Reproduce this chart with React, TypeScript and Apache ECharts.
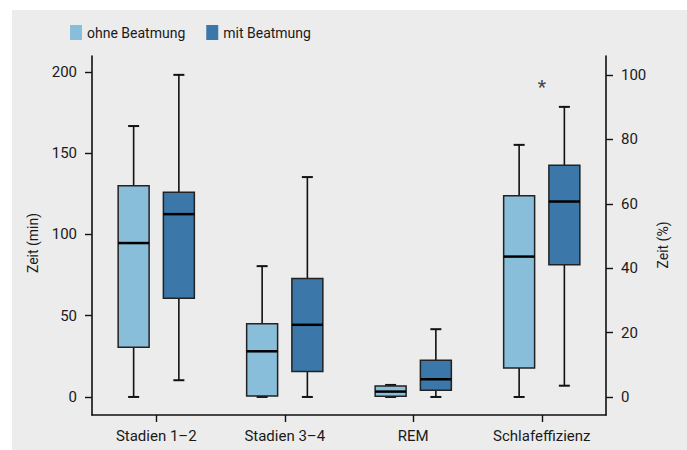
import React, { useEffect, useRef } from "react";
import * as echarts from "echarts";

const categories = ["Stadien 1–2", "Stadien 3–4", "REM", "Schlafeffizienz"];
const seriesNames = ["ohne Beatmung", "mit Beatmung"];
const colors = ["#89bedb", "#3b77a9"];

// [categoryIndex, lowerWhisker, Q1, median, Q3, upperWhisker] in minutes
const ohneMin = [
  [0, 0, 30.6, 94.7, 130.0, 166.7],
  [1, 0, 0.6, 28.1, 45.0, 80.5],
  [2, 0, 0.4, 3.3, 6.8, 7.4],
];
const mitMin = [
  [0, 10.3, 60.8, 112.5, 125.9, 198.2],
  [1, 0, 15.6, 44.4, 72.9, 135.3],
  [2, 0, 4.1, 10.9, 22.6, 41.7],
];
// Schlafeffizienz in percent (right axis)
const ohnePct = [[3, 0, 9.0, 43.6, 62.5, 78.3]];
const mitPct = [[3, 3.5, 41.1, 60.7, 72.0, 90.1]];
const significance = [[3, 96.5]];

const leftTicks = [0, 50, 100, 150, 200];
const rightTicks = [0, 20, 40, 60, 80, 100];

const FONT = "Roboto";
const TEXT = "#1a1a1a";

function makeRender(offsetFrac: number, color: string) {
  return (params: any, api: any) => {
    const cat = api.value(0);
    const band = api.size([1, 0])[0];
    const cx = api.coord([cat, 0])[0] + offsetFrac * band;
    const w = band * 0.241;
    const capW = 11;
    const y = (i: number) => api.coord([cat, api.value(i)])[1];
    const lo = y(1), q1 = y(2), med = y(3), q3 = y(4), hi = y(5);
    const lineStyle = { stroke: "#111", lineWidth: 1.6 };
    return {
      type: "group",
      children: [
        { type: "line", shape: { x1: cx, y1: hi, x2: cx, y2: q3 }, style: lineStyle },
        { type: "line", shape: { x1: cx, y1: q1, x2: cx, y2: lo }, style: lineStyle },
        { type: "line", shape: { x1: cx - capW / 2, y1: hi, x2: cx + capW / 2, y2: hi }, style: { stroke: "#111", lineWidth: 2 } },
        { type: "line", shape: { x1: cx - capW / 2, y1: lo, x2: cx + capW / 2, y2: lo }, style: { stroke: "#111", lineWidth: 2 } },
        {
          type: "rect",
          shape: { x: cx - w / 2, y: q3, width: w, height: q1 - q3 },
          style: { fill: color, stroke: "#222", lineWidth: 1.5 },
        },
        { type: "line", shape: { x1: cx - w / 2, y1: med, x2: cx + w / 2, y2: med }, style: { stroke: "#000", lineWidth: 2.5 } },
      ],
    };
  };
}

export default function App() {
  const ref = useRef<HTMLDivElement>(null);
  useEffect(() => {
    if (!ref.current) return;
    const chart = echarts.init(ref.current, undefined, { renderer: "svg" });
    const boxSeries = (name: string, data: number[][], offset: number, color: string, yAxisIndex: number) => ({
      type: "custom",
      name,
      yAxisIndex,
      data,
      encode: { x: 0, y: [1, 2, 3, 4, 5] },
      itemStyle: { color },
      renderItem: makeRender(offset, color),
    });
    chart.setOption({
      animation: false,
      backgroundColor: "#ffffff",
      textStyle: { fontFamily: FONT },
      graphic: [
        {
          type: "rect",
          left: 12,
          top: 10,
          z: -100,
          silent: true,
          shape: { width: 675, height: 440 },
          style: { fill: "#ececec" },
        },
        {
          type: "text",
          x: 33,
          y: 243,
          rotation: Math.PI / 2,
          style: { text: "Zeit (min)", font: `14px ${FONT}`, fill: TEXT, textAlign: "center", textVerticalAlign: "middle" },
        },
        {
          type: "text",
          x: 663,
          y: 245,
          rotation: Math.PI / 2,
          style: { text: "Zeit (%)", font: `14px ${FONT}`, fill: TEXT, textAlign: "center", textVerticalAlign: "middle" },
        },
      ],
      legend: {
        left: 70,
        top: 25,
        padding: 0,
        itemWidth: 12,
        itemHeight: 15,
        itemGap: 21,
        icon: "rect",
        data: seriesNames,
        textStyle: { fontSize: 14, color: TEXT, fontFamily: FONT, padding: [0, 0, 0, 0] },
      },
      grid: { left: 92, right: 81, top: 56, bottom: 35, containLabel: false },
      xAxis: {
        type: "category",
        data: categories,
        axisLine: { show: true, onZero: false, lineStyle: { color: "#111", width: 1.6 } },
        axisTick: { show: true, alignWithLabel: true, length: 7, lineStyle: { color: "#111", width: 1.4 } },
        axisLabel: { fontSize: 15, color: TEXT, margin: 13, fontFamily: FONT },
        splitLine: { show: false },
      },
      yAxis: [
        {
          type: "value",
          min: -11.1,
          max: 209.8,
          position: "left",
          axisLine: { show: true, lineStyle: { color: "#111", width: 1.6 } },
          axisTick: { show: true, length: 7, customValues: leftTicks, lineStyle: { color: "#111", width: 1.4 } },
          axisLabel: { fontSize: 15, color: TEXT, margin: 15, fontFamily: FONT, customValues: leftTicks },
          splitLine: { show: false },
        },
        {
          type: "value",
          min: -5.6,
          max: 105.9,
          position: "right",
          axisLine: { show: true, lineStyle: { color: "#111", width: 1.6 } },
          axisTick: { show: true, length: 7, customValues: rightTicks, lineStyle: { color: "#111", width: 1.4 } },
          axisLabel: { fontSize: 15, color: TEXT, margin: 15, fontFamily: FONT, customValues: rightTicks },
          splitLine: { show: false },
        },
      ],
      series: [
        boxSeries(seriesNames[0], ohneMin, -0.176, colors[0], 0),
        boxSeries(seriesNames[1], mitMin, 0.176, colors[1], 0),
        boxSeries(seriesNames[0], ohnePct, -0.176, colors[0], 1),
        boxSeries(seriesNames[1], mitPct, 0.176, colors[1], 1),
        {
          type: "scatter",
          name: "sig",
          yAxisIndex: 1,
          data: significance,
          symbolSize: 1,
          itemStyle: { color: "rgba(0,0,0,0)" },
          label: { show: true, position: "inside", formatter: "*", fontSize: 18, fontWeight: "bold", color: "#222", fontFamily: FONT },
        },
      ],
    });
    return () => chart.dispose();
  }, []);
  return (
    <div
      ref={ref}
      style={{ position: "absolute", left: 0, top: 0, width: 687, height: 450 }}
    />
  );
}
